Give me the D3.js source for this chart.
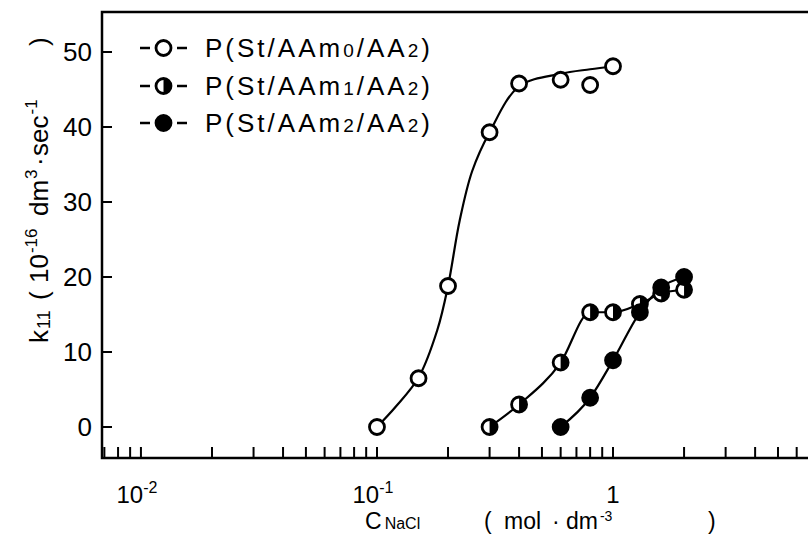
<!DOCTYPE html>
<html><head><meta charset="utf-8">
<script src="https://cdn.jsdelivr.net/npm/d3@7"></script>
<style>body{margin:0;background:#fff}svg{display:block}text{font-family:"Liberation Sans",Arial,sans-serif;fill:#000}</style>
</head><body><svg id="c" width="808" height="535"></svg>
<script>
// ---- data ----
const conc0 = [0.1, 0.15, 0.2, 0.3, 0.4, 0.6, 0.8, 1.0];
const k0    = [0, 6.5, 18.8, 39.3, 45.8, 46.3, 45.6, 48.1];
const conc1 = [0.3, 0.4, 0.6, 0.8, 1.0, 1.3, 1.6, 2.0];
const k1    = [0, 3.0, 8.6, 15.3, 15.3, 16.4, 17.8, 18.3];
const conc2 = [0.6, 0.8, 1.0, 1.3, 1.6, 2.0];
const k2    = [0, 3.9, 8.9, 15.3, 18.6, 20.0];
// fitted curve of series 0
const fit0x = [0.1, 0.12, 0.15, 0.18, 0.2, 0.224, 0.253, 0.3, 0.4, 0.6, 0.8, 1.0];
const fit0y = [0, 2.7, 6.6, 12.9, 18.8, 27.5, 34.1, 39.3, 45.4, 47.1, 47.7, 48.1];
const yTicks = [0, 10, 20, 30, 40, 50];
const xLabelTicks = [0.01, 0.1, 1];
const xLabelBase = ["10", "10", "1"];
const xLabelExp  = ["-2", "-1", ""];
const seriesNames = [["P(St/AAm","0","/AA","2",")"],["P(St/AAm","1","/AA","2",")"],["P(St/AAm","2","/AA","2",")"]];
const seriesFill = ["open", "half", "full"];

const svg = d3.select("#c");
const L = 102, R = 808, T = 12, B = 458;
const x = d3.scaleLog().domain([0.00684, 6.7]).range([L, R]);
const y = d3.scaleLinear().domain([-4.13, 55.33]).range([B, T]);
const FS = 26, SFS = 17;

// frame
svg.append("path").attr("d", `M${R},${T}H${L}V${B}H${R}`)
  .attr("fill","none").attr("stroke","#000").attr("stroke-width",2.5);

// x ticks (inward)
const xt = x.ticks();
svg.append("g").selectAll("line").data(xt).join("line")
  .attr("x1", d=>x(d)).attr("x2", d=>x(d)).attr("y1", B).attr("y2", B-11)
  .attr("stroke","#000").attr("stroke-width",2);
// y ticks (inward)
svg.append("g").selectAll("line").data(yTicks).join("line")
  .attr("x1", L).attr("x2", L+10).attr("y1", d=>y(d)).attr("y2", d=>y(d))
  .attr("stroke","#000").attr("stroke-width",2);
// y labels
svg.append("g").selectAll("text").data(yTicks).join("text")
  .attr("x", L-10).attr("y", d=>y(d)+9).attr("text-anchor","end")
  .attr("font-size",FS).text(d=>d);
// x labels
xLabelTicks.forEach((v,i)=>{
  const t = svg.append("text").attr("x", x(v)-(xLabelExp[i]?4:0)).attr("y", 503).attr("text-anchor","middle").attr("font-size",24);
  t.append("tspan").text(xLabelBase[i]);
  if (xLabelExp[i]) t.append("tspan").attr("font-size",16).attr("dy",-10).text(xLabelExp[i]);
});

// axis titles
const XTS = 23;
const xt1 = svg.append("text").attr("x",365).attr("y",529).attr("font-size",XTS);
xt1.append("tspan").text("C");
xt1.append("tspan").attr("font-size",16).attr("dx",3).text("NaCl");
const xt2 = svg.append("text").attr("y",529).attr("font-size",XTS);
xt2.append("tspan").attr("x",484).text("(");
xt2.append("tspan").attr("x",504).text("mol");
xt2.append("tspan").attr("x",552).text("·");
xt2.append("tspan").attr("x",566).text("dm");
xt2.append("tspan").attr("font-size",14).attr("dy",-8).attr("dx",2).text("-3");
xt2.append("tspan").attr("dy",8).attr("x",708).text(")");

const yt1 = svg.append("text").attr("transform","translate(48,0) rotate(-90)").attr("font-size",FS);
yt1.append("tspan").attr("x",-343).text("k");
yt1.append("tspan").attr("font-size",18).attr("dy",2).attr("dx",1).text("11");
const yt2 = svg.append("text").attr("transform","translate(48,0) rotate(-90)").attr("font-size",FS);
yt2.append("tspan").attr("x",-300).text("(");
yt2.append("tspan").attr("x",-283).text("10");
yt2.append("tspan").attr("font-size",SFS).attr("dy",-11).attr("dx",1).text("-16");
yt2.append("tspan").attr("dy",11).attr("x",-216).text("dm");
yt2.append("tspan").attr("font-size",SFS).attr("dy",-11).attr("dx",1).text("3");
yt2.append("tspan").attr("dy",11).attr("x",-166).text("·");
yt2.append("tspan").attr("x",-156).text("sec");
yt2.append("tspan").attr("font-size",SFS).attr("dy",-11).attr("dx",1).text("-1");
yt2.append("tspan").attr("dy",11).attr("x",-46).text(")");

// curves
const lineGen = d3.line().x(d=>x(d[0])).y(d=>y(d[1]));
function drawLine(xs, ys, curve){
  svg.append("path").datum(xs.map((v,i)=>[v, ys[i]]))
    .attr("d", lineGen.curve(curve))
    .attr("fill","none").attr("stroke","#000").attr("stroke-width",2.2);
}
drawLine(fit0x, fit0y, d3.curveCatmullRom);
drawLine(conc1, k1, d3.curveMonotoneX);
drawLine(conc2, k2, d3.curveMonotoneX);

// markers
const r = 7.5;
function marker(g, cx, cy, type){
  g.append("circle").attr("cx",cx).attr("cy",cy).attr("r",r)
    .attr("fill", type==="full" ? "#000" : "#fff").attr("stroke","#000").attr("stroke-width",2.8);
  if (type==="half"){
    g.append("path").attr("d", `M${cx},${cy-r}A${r},${r} 0 0 1 ${cx},${cy+r}Z`).attr("fill","#000");
  }
}
const mg = svg.append("g");
conc0.forEach((c,i)=>marker(mg, x(c), y(k0[i]), "open"));
conc1.forEach((c,i)=>marker(mg, x(c), y(k1[i]), "half"));
conc2.forEach((c,i)=>marker(mg, x(c), y(k2[i]), "full"));

// legend
const legY = [48, 86, 123];
seriesNames.forEach((parts,i)=>{
  const g = svg.append("g");
  g.append("line").attr("x1",140).attr("x2",150).attr("y1",legY[i]).attr("y2",legY[i]).attr("stroke","#000").attr("stroke-width",2.5);
  g.append("line").attr("x1",177).attr("x2",187).attr("y1",legY[i]).attr("y2",legY[i]).attr("stroke","#000").attr("stroke-width",2.5);
  marker(g, 163.5, legY[i], seriesFill[i]);
  const t = g.append("text").attr("x",205).attr("y",legY[i]+9).attr("font-size",FS).attr("letter-spacing",3);
  t.append("tspan").text(parts[0]);
  t.append("tspan").attr("font-size",19).text(parts[1]);
  t.append("tspan").text(parts[2]);
  t.append("tspan").attr("font-size",19).text(parts[3]);
  t.append("tspan").text(parts[4]);
});
</script></body></html>
